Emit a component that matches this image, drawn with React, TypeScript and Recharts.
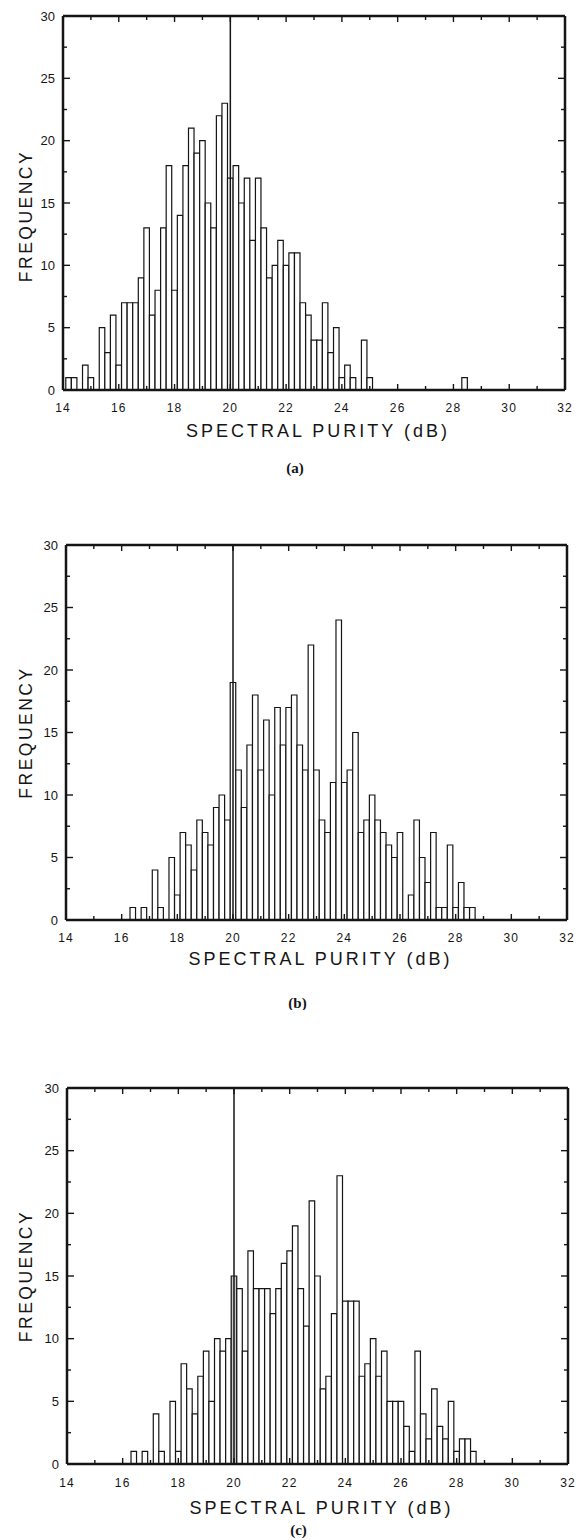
import { BarChart, Bar, XAxis, YAxis, ReferenceLine, Label, Cell } from "recharts";

// histogram bins are 0.2 dB wide, each count sits at the centre value of its bin
const BIN_DB = 0.2;

// (a) bins 14.2 .. 28.4 dB
const firstBinA = 14.2;
const countsA = [
  1, 1, 0, 2, 1, 0, 5, 3, 6, 2,
  7, 7, 7, 9, 13, 6, 8, 13, 18, 8,
  14, 18, 21, 19, 20, 15, 13, 22, 23, 17,
  18, 15, 17, 12, 17, 13, 9, 10, 12, 10,
  11, 11, 7, 6, 4, 4, 7, 3, 5, 1,
  2, 1, 0, 4, 1, 0, 0, 0, 0, 0,
  0, 0, 0, 0, 0, 0, 0, 0, 0, 0,
  0, 1,
];

// (b) bins 16.4 .. 28.6 dB
const firstBinB = 16.4;
const countsB = [
  1, 0, 1, 0, 4, 1, 0, 5, 2, 7,
  6, 4, 8, 7, 6, 9, 10, 8, 19, 12,
  9, 14, 18, 12, 16, 10, 17, 14, 17, 18,
  14, 12, 22, 12, 8, 7, 11, 24, 11, 12,
  15, 7, 8, 10, 8, 7, 6, 5, 7, 0,
  2, 8, 5, 3, 7, 1, 1, 6, 1, 3,
  1, 1,
];

// (c) bins 16.4 .. 28.6 dB
const firstBinC = 16.4;
const countsC = [
  1, 0, 1, 0, 4, 1, 0, 5, 1, 8,
  6, 4, 7, 9, 5, 10, 9, 10, 15, 14,
  9, 17, 14, 14, 14, 12, 14, 16, 17, 19,
  14, 11, 21, 15, 6, 7, 12, 23, 13, 13,
  13, 7, 8, 10, 7, 9, 5, 5, 5, 3,
  1, 9, 4, 2, 6, 3, 2, 5, 1, 2,
  2, 1,
];

// every 1 dB gets a tick mark, even ones are labelled
const xTicks = [14, 15, 16, 17, 18, 19, 20, 21, 22, 23, 24, 25, 26, 27, 28, 29, 30, 31, 32];
// every 2.5 counts gets a tick mark, multiples of 5 are labelled
const yTicks = [0, 2.5, 5, 7.5, 10, 12.5, 15, 17.5, 20, 22.5, 25, 27.5, 30];

const nominalDb = 20;

const INK = "#151515";
const SANS = "'Liberation Sans', Arial, sans-serif";
const X_MIN = 14;
const X_MAX = 32;
const Y_MAX = 30;

function toRows(first: number, counts: number[]) {
  return counts.map((n, i) => ({ db: Math.round((first + i * BIN_DB) * 10) / 10, n }));
}

const panels = [
  { rows: toRows(firstBinA, countsA), caption: "(a)", top: 0, height: 480, mTop: 16, mRight: 13, yW: 63, xH: 90, tickGap: 13, titleOff: 34, capOff: 72, yLabelDy: 13, shade: -1 },
  { rows: toRows(firstBinB, countsB), caption: "(b)", top: 480, height: 530, mTop: 65, mRight: 11, yW: 66, xH: 90, tickGap: 13, titleOff: 32, capOff: 77, yLabelDy: 0, shade: -1 },
  { rows: toRows(firstBinC, countsC), caption: "(c)", top: 1010, height: 530, mTop: 78, mRight: 10, yW: 67, xH: 76, tickGap: 14, titleOff: 37, capOff: 60, yLabelDy: 0, shade: 20 },
];

function Histogram({ p }: any) {
  const plotW = 578 - p.yW - p.mRight;
  const plotH = p.height - p.mTop - p.xH;
  const barPx = (plotW / 18) * BIN_DB - 0.05;
  const frame = { stroke: INK, strokeWidth: 2.5 };
  const Y_GAP = 8;

  // bottom axis tick: inward marks on bottom and top edge + label on even values
  const xTick = (props: any) => {
    const { x, y, payload } = props;
    const v = payload.value;
    const base = y - p.tickGap;
    const major = v % 2 === 0;
    const len = major ? 6 : 4;
    const edge = v === X_MIN || v === X_MAX;
    return (
      <g>
        {!edge && (
          <>
            <line x1={x} x2={x} y1={base} y2={base - len} stroke={INK} strokeWidth={1.4} />
            <line x1={x} x2={x} y1={base - plotH} y2={base - plotH + len} stroke={INK} strokeWidth={1.4} />
          </>
        )}
        {major && (
          <text x={x} y={y} dy="0.71em" textAnchor="middle" fill={INK} fontSize={12} fontFamily={SANS} letterSpacing={1.2}>
            {v}
          </text>
        )}
      </g>
    );
  };

  // left axis tick: inward marks on left and right edge + label on multiples of 5
  const yTick = (props: any) => {
    const { x, y, payload } = props;
    const v = payload.value;
    const base = x + Y_GAP;
    const major = v % 5 === 0;
    const len = major ? 7 : 4;
    const edge = v === 0 || v === Y_MAX;
    return (
      <g>
        {!edge && (
          <>
            <line x1={base} x2={base + len} y1={y} y2={y} stroke={INK} strokeWidth={1.4} />
            <line x1={base + plotW} x2={base + plotW - len} y1={y} y2={y} stroke={INK} strokeWidth={1.4} />
          </>
        )}
        {major && (
          <text x={x} y={y} dy="0.355em" textAnchor="end" fill={INK} fontSize={13} fontFamily={SANS}>
            {v}
          </text>
        )}
      </g>
    );
  };

  return (
    <div style={{ position: "absolute", left: 0, top: p.top }}>
      <BarChart
        width={578}
        height={p.height}
        data={p.rows}
        margin={{ top: p.mTop, right: p.mRight, bottom: 0, left: 0 }}
      >
        <XAxis
          xAxisId="x"
          dataKey="db"
          type="number"
          allowDataOverflow
          domain={[X_MIN, X_MAX]}
          ticks={xTicks}
          interval={0}
          height={p.xH}
          tickLine={false}
          tickSize={0}
          tickMargin={p.tickGap}
          axisLine={frame}
          tick={xTick}
        >
          <Label
            value="SPECTRAL PURITY (dB)"
            position="insideTop"
            offset={p.titleOff}
            dx={4}
            fill={INK}
            fontSize={18}
            fontFamily={SANS}
            letterSpacing={3}
          />
          <Label
            value={p.caption}
            position="insideTop"
            offset={p.capOff}
            dx={-19}
            fill={INK}
            fontSize={15}
            fontWeight={700}
            fontFamily="'Liberation Serif', serif"
          />
        </XAxis>
        <YAxis
          yAxisId="y"
          type="number"
          allowDataOverflow
          domain={[0, Y_MAX]}
          ticks={yTicks}
          interval={0}
          width={p.yW}
          tickLine={false}
          tickSize={0}
          tickMargin={Y_GAP}
          axisLine={frame}
          tick={yTick}
        >
          <Label
            value="FREQUENCY"
            angle={-90}
            position="center"
            dx={26 - p.yW / 2}
            dy={p.yLabelDy}
            fill={INK}
            fontSize={17.5}
            fontFamily={SANS}
            letterSpacing={2.5}
          />
        </YAxis>

        <Bar
          xAxisId="x"
          yAxisId="y"
          dataKey="n"
          barSize={barPx}
          stroke={INK}
          strokeWidth={1.2}
          isAnimationActive={false}
        >
          {p.rows.map((r: any) => (
            <Cell key={r.db} fill={r.db === p.shade ? "#c8c8c8" : "#ffffff"} />
          ))}
        </Bar>
        <ReferenceLine xAxisId="x" yAxisId="y" x={nominalDb} stroke={INK} strokeWidth={1.5} />
        {/* top and right edges of the frame */}
        <ReferenceLine xAxisId="x" yAxisId="y" y={Y_MAX} stroke={INK} strokeWidth={2.5} />
        <ReferenceLine xAxisId="x" yAxisId="y" x={X_MAX} stroke={INK} strokeWidth={2.5} />
      </BarChart>
    </div>
  );
}

export default function App() {
  return (
    <div style={{ position: "relative", width: 578, height: 1540, background: "#fff" }}>
      <style>{"body{margin:0}"}</style>
      {panels.map((p) => (
        <Histogram key={p.caption} p={p} />
      ))}
    </div>
  );
}
